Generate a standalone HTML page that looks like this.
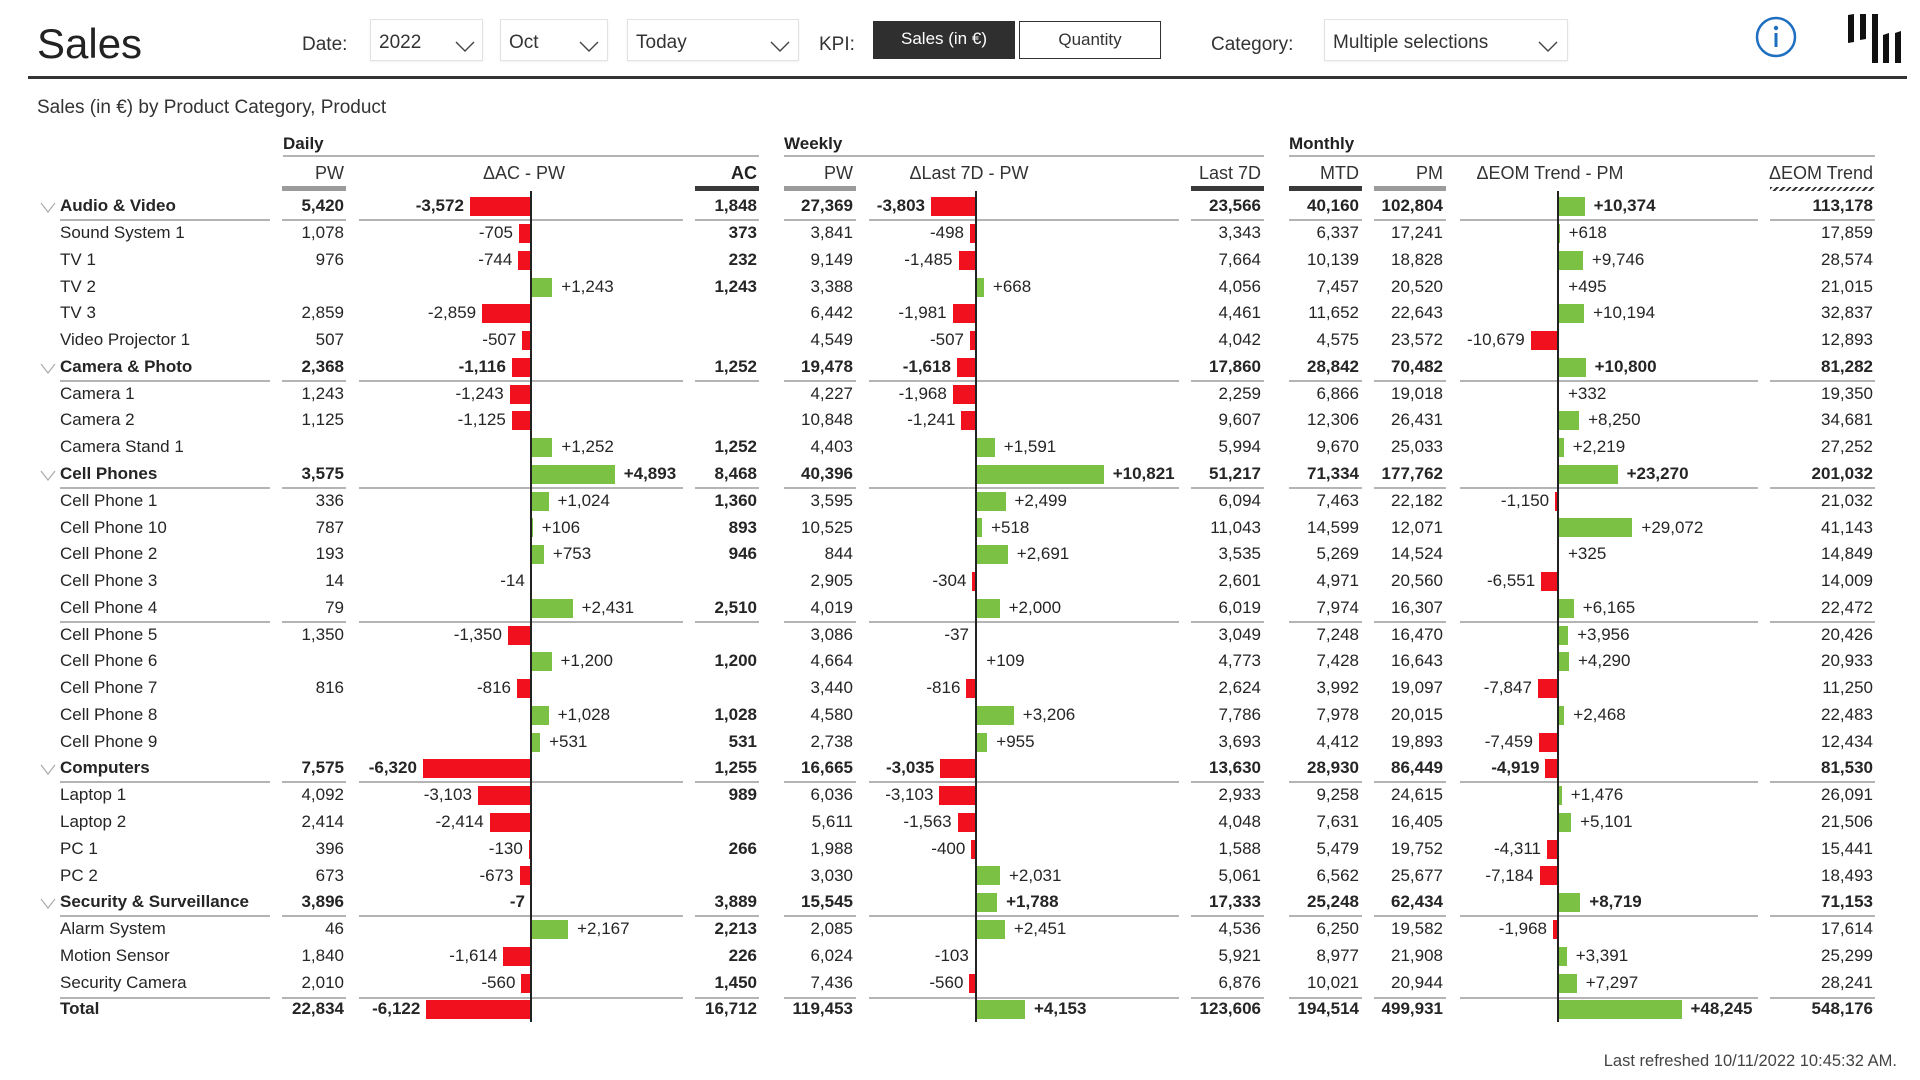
<!DOCTYPE html>
<html><head><meta charset="utf-8"><style>
*{margin:0;padding:0;box-sizing:border-box}
body{width:1920px;height:1080px;overflow:hidden;background:#fff;font-family:"Liberation Sans",sans-serif;color:#252525;position:relative}
.abs{position:absolute;white-space:nowrap}
.title{left:37px;top:23px;font-size:42px;line-height:42px;color:#222}
.lbl{font-size:19px;line-height:24px;top:33px;color:#333}
.dd{position:absolute;top:19px;height:42px;border:1px solid #e2e2e2;box-shadow:0 1px 2px rgba(0,0,0,.06);font-size:19px;line-height:40px;color:#333;padding-left:8px;padding-top:3px}
.dd svg{position:absolute;top:21px}
.btn{position:absolute;top:21px;height:38px;font-size:17px;line-height:36px;text-align:center}
.hl{position:absolute;left:28px;top:76px;width:1879px;height:2.5px;background:#333}
.sub{left:37px;top:96px;font-size:19px;line-height:24px;color:#333}
.gh{position:absolute;top:132px;font-weight:bold;font-size:17px;line-height:24px;color:#222}
.gl{position:absolute;top:155px;height:2px;background:#b4b4b4}
.ch{position:absolute;top:161px;font-size:18px;line-height:24px;color:#333;white-space:nowrap}
.hb{position:absolute;top:186px;height:5px}
.gy{background:#9b9b9b}.dk{background:#3a3a3a}
.hatch{background:repeating-linear-gradient(135deg,#333 0 2px,#fff 2px 4.5px)}
.r{position:absolute;left:0;width:1920px;height:26.77px;line-height:26.77px;font-size:17px;margin-top:1px}
.r span{position:absolute;top:0;white-space:nowrap}
.r .n{left:60px}
.a{right:1576px}.b{right:1163px;font-weight:bold}.c{right:1067px}.d{right:659px}.e{right:561px}.f{right:477px}.g{right:47px}
.r .p{margin-left:2px}
.cat{font-weight:bold}
.r i{position:absolute;top:3.9px;height:19px}
.R{background:#f0101e}.G{background:#7bc143}
.chev{position:absolute;left:40px;top:9px}
.u{position:absolute;left:0;width:1920px;height:2px;margin-top:1px}
.u b{position:absolute;top:0;height:2px;background:#b4b4b4}
.ax{position:absolute;top:191px;width:2px;height:831px;background:#222;z-index:5}
.foot{right:23px;top:1050px;font-size:16.5px;line-height:22px;color:#444}
</style></head><body>

<div class="abs title">Sales</div>
<div class="abs lbl" style="left:302px">Date:</div>
<div class="dd" style="left:370px;width:113px">2022<svg style="left:84px" width="20" height="11"><polyline points="1,1 10,10 19,1" fill="none" stroke="#444" stroke-width="1.4"/></svg></div>
<div class="dd" style="left:500px;width:108px">Oct<svg style="left:78px" width="20" height="11"><polyline points="1,1 10,10 19,1" fill="none" stroke="#444" stroke-width="1.4"/></svg></div>
<div class="dd" style="left:627px;width:172px">Today<svg style="left:142px" width="20" height="11"><polyline points="1,1 10,10 19,1" fill="none" stroke="#444" stroke-width="1.4"/></svg></div>
<div class="abs lbl" style="left:819px">KPI:</div>
<div class="btn" style="left:873px;width:142px;background:#2f2f2f;color:#fff">Sales (in €)</div>
<div class="btn" style="left:1019px;width:142px;border:1.5px solid #333;color:#333;background:#fff">Quantity</div>
<div class="abs lbl" style="left:1211px">Category:</div>
<div class="dd" style="left:1324px;width:244px">Multiple selections<svg style="left:213px" width="20" height="11"><polyline points="1,1 10,10 19,1" fill="none" stroke="#444" stroke-width="1.4"/></svg></div>
<svg class="abs" style="left:1750px;top:11px" width="52" height="52"><circle cx="26" cy="26" r="19" fill="none" stroke="#1e6fc0" stroke-width="2.5"/><circle cx="26" cy="17" r="2.2" fill="#1e6fc0"/><line x1="26" y1="22" x2="26" y2="36" stroke="#1e6fc0" stroke-width="3"/></svg>
<svg class="abs" style="left:1840px;top:10px" width="70" height="60"><polygon points="8,5 14,4 14,32 8,33" fill="#111"/><polygon points="20,4 26,4 26,29 20,30" fill="#111"/><polygon points="32,4 38,4 38,53 32,53" fill="#111"/><polygon points="43,25 49,23 49,53 43,53" fill="#111"/><polygon points="55,23 61,21 61,53 55,53" fill="#111"/></svg>
<div class="hl"></div>

<div class="abs sub">Sales (in €) by Product Category, Product</div>

<div class="gh" style="left:283px">Daily</div>
<div class="gh" style="left:784px">Weekly</div>
<div class="gh" style="left:1289px">Monthly</div>
<div class="gl" style="left:283px;width:476px"></div>
<div class="gl" style="left:784px;width:480px"></div>
<div class="gl" style="left:1289px;width:586px"></div>

<div class="ch" style="right:1576px">PW</div>
<div class="ch" style="left:424px;width:200px;text-align:center">ΔAC - PW</div>
<div class="ch" style="right:1163px;font-weight:bold;color:#222">AC</div>
<div class="ch" style="right:1067px">PW</div>
<div class="ch" style="left:869px;width:200px;text-align:center">ΔLast 7D - PW</div>
<div class="ch" style="right:659px">Last 7D</div>
<div class="ch" style="right:561px">MTD</div>
<div class="ch" style="right:477px">PM</div>
<div class="ch" style="left:1450px;width:200px;text-align:center">ΔEOM Trend - PM</div>
<div class="ch" style="right:47px">ΔEOM Trend</div>

<div class="hb gy" style="left:282px;width:64px"></div>
<div class="hb dk" style="left:695px;width:64px"></div>
<div class="hb gy" style="left:784px;width:72px"></div>
<div class="hb dk" style="left:1191px;width:73px"></div>
<div class="hb dk" style="left:1289px;width:73px"></div>
<div class="hb gy" style="left:1374px;width:72px"></div>
<div class="hb hatch" style="left:1770px;width:105px;top:187px;height:4px"></div>

<!-- Rows -->
<div class="r cat" style="top:192.3px"><svg class="chev" width="16" height="11"><polyline points="1,1 8,10 15,1" fill="none" stroke="#aaa" stroke-width="1.2"/></svg><span class="n">Audio &amp; Video</span><span class="a">5,420</span><i class="R" style="left:469.9px;width:61.1px"></i><span style="right:1456.1px">-3,572</span><span class="b">1,848</span><span class="c">27,369</span><i class="R" style="left:931.1px;width:44.9px"></i><span style="right:995px">-3,803</span><span class="d">23,566</span><span class="e">40,160</span><span class="f">102,804</span><i class="G" style="left:1558px;width:26.6px"></i><span class="p" style="left:1591.6px">+10,374</span><span class="g">113,178</span></div>

<div class="r" style="top:219.07px"><span class="n">Sound System 1</span><span class="a">1,078</span><i class="R" style="left:518.9px;width:12.1px"></i><span style="right:1407.1px">-705</span><span class="b">373</span><span class="c">3,841</span><i class="R" style="left:970.1px;width:5.9px"></i><span style="right:956px">-498</span><span class="d">3,343</span><span class="e">6,337</span><span class="f">17,241</span><i class="G" style="left:1558px;width:1.6px"></i><span class="p" style="left:1566.6px">+618</span><span class="g">17,859</span></div>

<div class="r" style="top:245.84px"><span class="n">TV 1</span><span class="a">976</span><i class="R" style="left:518.3px;width:12.7px"></i><span style="right:1407.7px">-744</span><span class="b">232</span><span class="c">9,149</span><i class="R" style="left:958.5px;width:17.5px"></i><span style="right:967.5px">-1,485</span><span class="d">7,664</span><span class="e">10,139</span><span class="f">18,828</span><i class="G" style="left:1558px;width:24.9px"></i><span class="p" style="left:1589.9px">+9,746</span><span class="g">28,574</span></div>

<div class="r" style="top:272.61px"><span class="n">TV 2</span><i class="G" style="left:531px;width:21.3px"></i><span class="p" style="left:559.3px">+1,243</span><span class="b">1,243</span><span class="c">3,388</span><i class="G" style="left:976px;width:7.9px"></i><span class="p" style="left:990.9px">+668</span><span class="d">4,056</span><span class="e">7,457</span><span class="f">20,520</span><i class="G" style="left:1558px;width:1.3px"></i><span class="p" style="left:1566.3px">+495</span><span class="g">21,015</span></div>

<div class="r" style="top:299.38px"><span class="n">TV 3</span><span class="a">2,859</span><i class="R" style="left:482.1px;width:48.9px"></i><span style="right:1443.9px">-2,859</span><span class="c">6,442</span><i class="R" style="left:952.6px;width:23.4px"></i><span style="right:973.4px">-1,981</span><span class="d">4,461</span><span class="e">11,652</span><span class="f">22,643</span><i class="G" style="left:1558px;width:26.1px"></i><span class="p" style="left:1591.1px">+10,194</span><span class="g">32,837</span></div>

<div class="r" style="top:326.15px"><span class="n">Video Projector 1</span><span class="a">507</span><i class="R" style="left:522.3px;width:8.7px"></i><span style="right:1403.7px">-507</span><span class="c">4,549</span><i class="R" style="left:970px;width:6px"></i><span style="right:956px">-507</span><span class="d">4,042</span><span class="e">4,575</span><span class="f">23,572</span><i class="R" style="left:1530.7px;width:27.3px"></i><span style="right:395.3px">-10,679</span><span class="g">12,893</span></div>

<div class="r cat" style="top:352.92px"><svg class="chev" width="16" height="11"><polyline points="1,1 8,10 15,1" fill="none" stroke="#aaa" stroke-width="1.2"/></svg><span class="n">Camera &amp; Photo</span><span class="a">2,368</span><i class="R" style="left:511.9px;width:19.1px"></i><span style="right:1414.1px">-1,116</span><span class="b">1,252</span><span class="c">19,478</span><i class="R" style="left:956.9px;width:19.1px"></i><span style="right:969.1px">-1,618</span><span class="d">17,860</span><span class="e">28,842</span><span class="f">70,482</span><i class="G" style="left:1558px;width:27.6px"></i><span class="p" style="left:1592.6px">+10,800</span><span class="g">81,282</span></div>

<div class="r" style="top:379.69px"><span class="n">Camera 1</span><span class="a">1,243</span><i class="R" style="left:509.7px;width:21.3px"></i><span style="right:1416.3px">-1,243</span><span class="c">4,227</span><i class="R" style="left:952.8px;width:23.2px"></i><span style="right:973.2px">-1,968</span><span class="d">2,259</span><span class="e">6,866</span><span class="f">19,018</span><i class="G" style="left:1558px;width:1px"></i><span class="p" style="left:1566px">+332</span><span class="g">19,350</span></div>

<div class="r" style="top:406.46px"><span class="n">Camera 2</span><span class="a">1,125</span><i class="R" style="left:511.8px;width:19.2px"></i><span style="right:1414.2px">-1,125</span><span class="c">10,848</span><i class="R" style="left:961.4px;width:14.6px"></i><span style="right:964.6px">-1,241</span><span class="d">9,607</span><span class="e">12,306</span><span class="f">26,431</span><i class="G" style="left:1558px;width:21.1px"></i><span class="p" style="left:1586.1px">+8,250</span><span class="g">34,681</span></div>

<div class="r" style="top:433.23px"><span class="n">Camera Stand 1</span><i class="G" style="left:531px;width:21.4px"></i><span class="p" style="left:559.4px">+1,252</span><span class="b">1,252</span><span class="c">4,403</span><i class="G" style="left:976px;width:18.8px"></i><span class="p" style="left:1001.8px">+1,591</span><span class="d">5,994</span><span class="e">9,670</span><span class="f">25,033</span><i class="G" style="left:1558px;width:5.7px"></i><span class="p" style="left:1570.7px">+2,219</span><span class="g">27,252</span></div>

<div class="r cat" style="top:460px"><svg class="chev" width="16" height="11"><polyline points="1,1 8,10 15,1" fill="none" stroke="#aaa" stroke-width="1.2"/></svg><span class="n">Cell Phones</span><span class="a">3,575</span><i class="G" style="left:531px;width:83.7px"></i><span class="p" style="left:621.7px">+4,893</span><span class="b">8,468</span><span class="c">40,396</span><i class="G" style="left:976px;width:127.7px"></i><span class="p" style="left:1110.7px">+10,821</span><span class="d">51,217</span><span class="e">71,334</span><span class="f">177,762</span><i class="G" style="left:1558px;width:59.6px"></i><span class="p" style="left:1624.6px">+23,270</span><span class="g">201,032</span></div>

<div class="r" style="top:486.77px"><span class="n">Cell Phone 1</span><span class="a">336</span><i class="G" style="left:531px;width:17.5px"></i><span class="p" style="left:555.5px">+1,024</span><span class="b">1,360</span><span class="c">3,595</span><i class="G" style="left:976px;width:29.5px"></i><span class="p" style="left:1012.5px">+2,499</span><span class="d">6,094</span><span class="e">7,463</span><span class="f">22,182</span><i class="R" style="left:1555.1px;width:2.9px"></i><span style="right:370.9px">-1,150</span><span class="g">21,032</span></div>

<div class="r" style="top:513.54px"><span class="n">Cell Phone 10</span><span class="a">787</span><i class="G" style="left:531px;width:1.8px"></i><span class="p" style="left:539.8px">+106</span><span class="b">893</span><span class="c">10,525</span><i class="G" style="left:976px;width:6.1px"></i><span class="p" style="left:989.1px">+518</span><span class="d">11,043</span><span class="e">14,599</span><span class="f">12,071</span><i class="G" style="left:1558px;width:74.4px"></i><span class="p" style="left:1639.4px">+29,072</span><span class="g">41,143</span></div>

<div class="r" style="top:540.31px"><span class="n">Cell Phone 2</span><span class="a">193</span><i class="G" style="left:531px;width:12.9px"></i><span class="p" style="left:550.9px">+753</span><span class="b">946</span><span class="c">844</span><i class="G" style="left:976px;width:31.8px"></i><span class="p" style="left:1014.8px">+2,691</span><span class="d">3,535</span><span class="e">5,269</span><span class="f">14,524</span><i class="G" style="left:1558px;width:1px"></i><span class="p" style="left:1566px">+325</span><span class="g">14,849</span></div>

<div class="r" style="top:567.08px"><span class="n">Cell Phone 3</span><span class="a">14</span><span style="right:1395.2px">-14</span><span class="c">2,905</span><i class="R" style="left:972.4px;width:3.6px"></i><span style="right:953.6px">-304</span><span class="d">2,601</span><span class="e">4,971</span><span class="f">20,560</span><i class="R" style="left:1541.2px;width:16.8px"></i><span style="right:384.8px">-6,551</span><span class="g">14,009</span></div>

<div class="r" style="top:593.85px"><span class="n">Cell Phone 4</span><span class="a">79</span><i class="G" style="left:531px;width:41.6px"></i><span class="p" style="left:579.6px">+2,431</span><span class="b">2,510</span><span class="c">4,019</span><i class="G" style="left:976px;width:23.6px"></i><span class="p" style="left:1006.6px">+2,000</span><span class="d">6,019</span><span class="e">7,974</span><span class="f">16,307</span><i class="G" style="left:1558px;width:15.8px"></i><span class="p" style="left:1580.8px">+6,165</span><span class="g">22,472</span></div>

<div class="r" style="top:620.62px"><span class="n">Cell Phone 5</span><span class="a">1,350</span><i class="R" style="left:507.9px;width:23.1px"></i><span style="right:1418.1px">-1,350</span><span class="c">3,086</span><i class="R" style="left:975px;width:1px"></i><span style="right:951px">-37</span><span class="d">3,049</span><span class="e">7,248</span><span class="f">16,470</span><i class="G" style="left:1558px;width:10.1px"></i><span class="p" style="left:1575.1px">+3,956</span><span class="g">20,426</span></div>

<div class="r" style="top:647.39px"><span class="n">Cell Phone 6</span><i class="G" style="left:531px;width:20.5px"></i><span class="p" style="left:558.5px">+1,200</span><span class="b">1,200</span><span class="c">4,664</span><i class="G" style="left:976px;width:1.3px"></i><span class="p" style="left:984.3px">+109</span><span class="d">4,773</span><span class="e">7,428</span><span class="f">16,643</span><i class="G" style="left:1558px;width:11px"></i><span class="p" style="left:1576px">+4,290</span><span class="g">20,933</span></div>

<div class="r" style="top:674.16px"><span class="n">Cell Phone 7</span><span class="a">816</span><i class="R" style="left:517px;width:14px"></i><span style="right:1409px">-816</span><span class="c">3,440</span><i class="R" style="left:966.4px;width:9.6px"></i><span style="right:959.6px">-816</span><span class="d">2,624</span><span class="e">3,992</span><span class="f">19,097</span><i class="R" style="left:1537.9px;width:20.1px"></i><span style="right:388.1px">-7,847</span><span class="g">11,250</span></div>

<div class="r" style="top:700.93px"><span class="n">Cell Phone 8</span><i class="G" style="left:531px;width:17.6px"></i><span class="p" style="left:555.6px">+1,028</span><span class="b">1,028</span><span class="c">4,580</span><i class="G" style="left:976px;width:37.8px"></i><span class="p" style="left:1020.8px">+3,206</span><span class="d">7,786</span><span class="e">7,978</span><span class="f">20,015</span><i class="G" style="left:1558px;width:6.3px"></i><span class="p" style="left:1571.3px">+2,468</span><span class="g">22,483</span></div>

<div class="r" style="top:727.7px"><span class="n">Cell Phone 9</span><i class="G" style="left:531px;width:9.1px"></i><span class="p" style="left:547.1px">+531</span><span class="b">531</span><span class="c">2,738</span><i class="G" style="left:976px;width:11.3px"></i><span class="p" style="left:994.3px">+955</span><span class="d">3,693</span><span class="e">4,412</span><span class="f">19,893</span><i class="R" style="left:1538.9px;width:19.1px"></i><span style="right:387.1px">-7,459</span><span class="g">12,434</span></div>

<div class="r cat" style="top:754.47px"><svg class="chev" width="16" height="11"><polyline points="1,1 8,10 15,1" fill="none" stroke="#aaa" stroke-width="1.2"/></svg><span class="n">Computers</span><span class="a">7,575</span><i class="R" style="left:422.9px;width:108.1px"></i><span style="right:1503.1px">-6,320</span><span class="b">1,255</span><span class="c">16,665</span><i class="R" style="left:940.2px;width:35.8px"></i><span style="right:985.8px">-3,035</span><span class="d">13,630</span><span class="e">28,930</span><span class="f">86,449</span><i class="R" style="left:1545.4px;width:12.6px"></i><span style="right:380.6px">-4,919</span><span class="g">81,530</span></div>

<div class="r" style="top:781.24px"><span class="n">Laptop 1</span><span class="a">4,092</span><i class="R" style="left:477.9px;width:53.1px"></i><span style="right:1448.1px">-3,103</span><span class="b">989</span><span class="c">6,036</span><i class="R" style="left:939.4px;width:36.6px"></i><span style="right:986.6px">-3,103</span><span class="d">2,933</span><span class="e">9,258</span><span class="f">24,615</span><i class="G" style="left:1558px;width:3.8px"></i><span class="p" style="left:1568.8px">+1,476</span><span class="g">26,091</span></div>

<div class="r" style="top:808.01px"><span class="n">Laptop 2</span><span class="a">2,414</span><i class="R" style="left:489.7px;width:41.3px"></i><span style="right:1436.3px">-2,414</span><span class="c">5,611</span><i class="R" style="left:957.6px;width:18.4px"></i><span style="right:968.4px">-1,563</span><span class="d">4,048</span><span class="e">7,631</span><span class="f">16,405</span><i class="G" style="left:1558px;width:13.1px"></i><span class="p" style="left:1578.1px">+5,101</span><span class="g">21,506</span></div>

<div class="r" style="top:834.78px"><span class="n">PC 1</span><span class="a">396</span><i class="R" style="left:528.8px;width:2.2px"></i><span style="right:1397.2px">-130</span><span class="b">266</span><span class="c">1,988</span><i class="R" style="left:971.3px;width:4.7px"></i><span style="right:954.7px">-400</span><span class="d">1,588</span><span class="e">5,479</span><span class="f">19,752</span><i class="R" style="left:1547px;width:11px"></i><span style="right:379px">-4,311</span><span class="g">15,441</span></div>

<div class="r" style="top:861.55px"><span class="n">PC 2</span><span class="a">673</span><i class="R" style="left:519.5px;width:11.5px"></i><span style="right:1406.5px">-673</span><span class="c">3,030</span><i class="G" style="left:976px;width:24px"></i><span class="p" style="left:1007px">+2,031</span><span class="d">5,061</span><span class="e">6,562</span><span class="f">25,677</span><i class="R" style="left:1539.6px;width:18.4px"></i><span style="right:386.4px">-7,184</span><span class="g">18,493</span></div>

<div class="r cat" style="top:888.32px"><svg class="chev" width="16" height="11"><polyline points="1,1 8,10 15,1" fill="none" stroke="#aaa" stroke-width="1.2"/></svg><span class="n">Security &amp; Surveillance</span><span class="a">3,896</span><span style="right:1395px">-7</span><span class="b">3,889</span><span class="c">15,545</span><i class="G" style="left:976px;width:21.1px"></i><span class="p" style="left:1004.1px">+1,788</span><span class="d">17,333</span><span class="e">25,248</span><span class="f">62,434</span><i class="G" style="left:1558px;width:22.3px"></i><span class="p" style="left:1587.3px">+8,719</span><span class="g">71,153</span></div>

<div class="r" style="top:915.09px"><span class="n">Alarm System</span><span class="a">46</span><i class="G" style="left:531px;width:37.1px"></i><span class="p" style="left:575.1px">+2,167</span><span class="b">2,213</span><span class="c">2,085</span><i class="G" style="left:976px;width:28.9px"></i><span class="p" style="left:1011.9px">+2,451</span><span class="d">4,536</span><span class="e">6,250</span><span class="f">19,582</span><i class="R" style="left:1553px;width:5px"></i><span style="right:373px">-1,968</span><span class="g">17,614</span></div>

<div class="r" style="top:941.86px"><span class="n">Motion Sensor</span><span class="a">1,840</span><i class="R" style="left:503.4px;width:27.6px"></i><span style="right:1422.6px">-1,614</span><span class="b">226</span><span class="c">6,024</span><i class="R" style="left:974.8px;width:1.2px"></i><span style="right:951.2px">-103</span><span class="d">5,921</span><span class="e">8,977</span><span class="f">21,908</span><i class="G" style="left:1558px;width:8.7px"></i><span class="p" style="left:1573.7px">+3,391</span><span class="g">25,299</span></div>

<div class="r" style="top:968.63px"><span class="n">Security Camera</span><span class="a">2,010</span><i class="R" style="left:521.4px;width:9.6px"></i><span style="right:1404.6px">-560</span><span class="b">1,450</span><span class="c">7,436</span><i class="R" style="left:969.4px;width:6.6px"></i><span style="right:956.6px">-560</span><span class="d">6,876</span><span class="e">10,021</span><span class="f">20,944</span><i class="G" style="left:1558px;width:18.7px"></i><span class="p" style="left:1583.7px">+7,297</span><span class="g">28,241</span></div>

<div class="r cat" style="top:995.4px"><span class="n">Total</span><span class="a">22,834</span><i class="R" style="left:426.3px;width:104.7px"></i><span style="right:1499.7px">-6,122</span><span class="b">16,712</span><span class="c">119,453</span><i class="G" style="left:976px;width:49px"></i><span class="p" style="left:1032px">+4,153</span><span class="d">123,606</span><span class="e">194,514</span><span class="f">499,931</span><i class="G" style="left:1558px;width:123.5px"></i><span class="p" style="left:1688.5px">+48,245</span><span class="g">548,176</span></div>

<!-- underline segments -->
<div class="u" style="top:218px"><b style="left:60px;width:210px"></b><b style="left:282px;width:64px"></b><b style="left:359px;width:324px"></b><b style="left:695px;width:64px"></b><b style="left:784px;width:72px"></b><b style="left:869px;width:310px"></b><b style="left:1191px;width:73px"></b><b style="left:1289px;width:73px"></b><b style="left:1374px;width:72px"></b><b style="left:1460px;width:298px"></b><b style="left:1770px;width:105px"></b></div>
<div class="u" style="top:378.7px"><b style="left:60px;width:210px"></b><b style="left:282px;width:64px"></b><b style="left:359px;width:324px"></b><b style="left:695px;width:64px"></b><b style="left:784px;width:72px"></b><b style="left:869px;width:310px"></b><b style="left:1191px;width:73px"></b><b style="left:1289px;width:73px"></b><b style="left:1374px;width:72px"></b><b style="left:1460px;width:298px"></b><b style="left:1770px;width:105px"></b></div>
<div class="u" style="top:485.8px"><b style="left:60px;width:210px"></b><b style="left:282px;width:64px"></b><b style="left:359px;width:324px"></b><b style="left:695px;width:64px"></b><b style="left:784px;width:72px"></b><b style="left:869px;width:310px"></b><b style="left:1191px;width:73px"></b><b style="left:1289px;width:73px"></b><b style="left:1374px;width:72px"></b><b style="left:1460px;width:298px"></b><b style="left:1770px;width:105px"></b></div>
<div class="u" style="top:619.6px"><b style="left:60px;width:210px"></b><b style="left:282px;width:64px"></b><b style="left:359px;width:324px"></b><b style="left:695px;width:64px"></b><b style="left:784px;width:72px"></b><b style="left:869px;width:310px"></b><b style="left:1191px;width:73px"></b><b style="left:1289px;width:73px"></b><b style="left:1374px;width:72px"></b><b style="left:1460px;width:298px"></b><b style="left:1770px;width:105px"></b></div>
<div class="u" style="top:780.2px"><b style="left:60px;width:210px"></b><b style="left:282px;width:64px"></b><b style="left:359px;width:324px"></b><b style="left:695px;width:64px"></b><b style="left:784px;width:72px"></b><b style="left:869px;width:310px"></b><b style="left:1191px;width:73px"></b><b style="left:1289px;width:73px"></b><b style="left:1374px;width:72px"></b><b style="left:1460px;width:298px"></b><b style="left:1770px;width:105px"></b></div>
<div class="u" style="top:914.1px"><b style="left:60px;width:210px"></b><b style="left:282px;width:64px"></b><b style="left:359px;width:324px"></b><b style="left:695px;width:64px"></b><b style="left:784px;width:72px"></b><b style="left:869px;width:310px"></b><b style="left:1191px;width:73px"></b><b style="left:1289px;width:73px"></b><b style="left:1374px;width:72px"></b><b style="left:1460px;width:298px"></b><b style="left:1770px;width:105px"></b></div>
<div class="u" style="top:995.5px"><b style="left:60px;width:210px"></b><b style="left:282px;width:64px"></b><b style="left:359px;width:324px"></b><b style="left:695px;width:64px"></b><b style="left:784px;width:72px"></b><b style="left:869px;width:310px"></b><b style="left:1191px;width:73px"></b><b style="left:1289px;width:73px"></b><b style="left:1374px;width:72px"></b><b style="left:1460px;width:298px"></b><b style="left:1770px;width:105px"></b></div>

<!-- axes -->
<div class="ax" style="left:530px"></div>
<div class="ax" style="left:975px"></div>
<div class="ax" style="left:1557px"></div>

<div class="abs foot">Last refreshed 10/11/2022 10:45:32 AM.</div>
</body></html>
